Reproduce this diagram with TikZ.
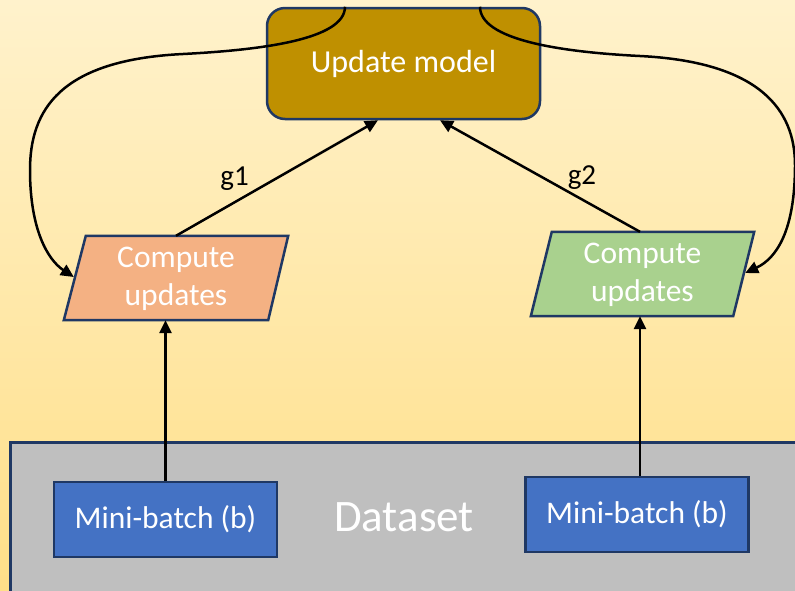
\documentclass[tikz,border=0pt]{standalone}
\usepackage{fontspec}
\setmainfont{Carlito}
\usetikzlibrary{arrows.meta,calc}
\definecolor{bgtop}{HTML}{FFF2CC}
\definecolor{bgbot}{HTML}{FFDF88}
\definecolor{navy}{HTML}{1F3864}
\definecolor{umfill}{HTML}{BF9000}
\definecolor{orfill}{HTML}{F4B183}
\definecolor{grfill}{HTML}{A9D18E}
\definecolor{mbfill}{HTML}{4472C4}
\definecolor{dsfill}{HTML}{BFBFBF}
\pgfdeclarelayer{bglayer}
\pgfdeclarelayer{paralayer}
\pgfsetlayers{bglayer,paralayer,main}
\tikzset{
  boxtext/.style={text=white, font=\fontsize{31.5}{38}\selectfont, align=center, inner sep=0pt},
  umbox/.style={boxtext, draw=navy, line width=2.5pt, fill=umfill, rounded corners=18pt, minimum width=273pt, minimum height=111pt, font=\fontsize{32}{38}\selectfont},
  parabox/.style={boxtext, minimum height=84pt},
  paraedge/.style={draw=navy, line width=2.5pt},
  mbbox/.style={boxtext, draw=navy, line width=2.5pt, fill=mbfill, minimum width=223pt, minimum height=75pt, font=\fontsize{31.5}{38}\selectfont},
  conn/.style={line width=2.5pt, -{Triangle[length=13pt,width=12pt]}},
  lbl/.style={font=\fontsize{29}{34}\selectfont, inner sep=0pt}
}
\begin{document}
\begin{tikzpicture}[x=1pt,y=-1pt]
\begin{pgfonlayer}{bglayer}
\shade[top color=bgtop, bottom color=bgbot] (0,0) rectangle (795,590);
\end{pgfonlayer}
\useasboundingbox (0,0) rectangle (795,590);
% dataset
\node[draw=navy, line width=2.5pt, fill=dsfill, anchor=north west, minimum width=800pt, minimum height=170pt, inner sep=0pt] (ds) at (9,441) {};
\node[text=white, font=\fontsize{45}{54}\selectfont, inner sep=0pt] (dstext) at (404,517) {Dataset};
\node[mbbox] (mb1) at (165.5,519.5) {Mini-batch (b)};
\node[mbbox] (mb2) at (637,514.5) {Mini-batch (b)};
% update model
\node[umbox] (um) at (403.5,63.5) {Update model};
% compute nodes
\node[parabox, minimum width=224pt] (cl) at (176,279) {Compute\\updates};
\node[parabox, minimum width=223pt] (cr) at (642.5,275) {Compute\\updates};
\begin{pgfonlayer}{paralayer}
\draw[paraedge, fill=orfill] ($(cl.north west)+(22,-1)$) -- ($(cl.north east)+(0,-1)$) -- ($(cl.south east)+(-20,-1)$) -- ($(cl.south west)+(0,-1)$) -- cycle;
\draw[paraedge, fill=grfill] ($(cr.north west)+(21,-1)$) -- ($(cr.north east)+(0,-1)$) -- ($(cr.south east)+(-21,-1)$) -- ($(cr.south west)+(0,-1)$) -- cycle;
\end{pgfonlayer}
% connectors
\draw[conn] (mb1.north) -- ($(mb1.north |- cl.south)+(0,-1)$);
\draw[conn] ($(mb2.north)+(3,0)$) -- ($(mb2.north |- cr.south)+(3,-1)$);
\draw[conn] ($(cl.north)+(0,-1)$) -- node[lbl, pos=0.29, yshift=24pt] (g1) {g1} ($(um.south)+(-25.5,0)$);
\draw[conn] ($(cr.north)+(-2.5,-1)$) -- node[lbl, pos=0.29, yshift=22pt] (g2) {g2} ($(um.south)+(36.5,0)$);
\coordinate (lend) at ($(cl.west)+(10,-2)$);
\coordinate (rend) at ($(cr.east)+(-9,-2)$);
\draw[conn] ($(um.north)+(-58.5,0)$) .. controls +(0,33) and (260,50) .. (183,54)
  .. controls (60,60) and (30,110) .. (30,170)
  .. controls (30,230) and (48,260) .. (lend);
\draw[conn] ($(um.north)+(76.5,0)$) .. controls +(0,33) and (560,52) .. (640,56)
  .. controls (760,62) and (795,110) .. (795,165)
  .. controls (795,230) and (777,258) .. (rend);
\end{tikzpicture}
\end{document}
